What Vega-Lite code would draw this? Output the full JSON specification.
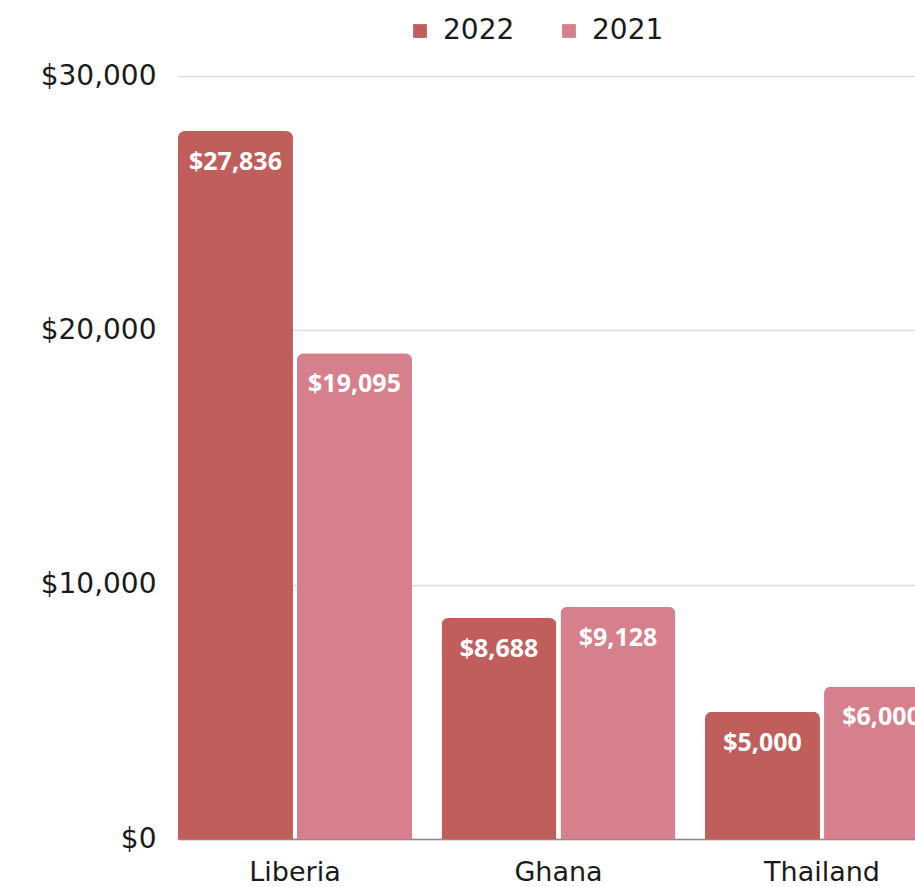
{
  "$schema": "https://vega.github.io/schema/vega-lite/v6.json",
  "autosize": {"type": "none"},
  "padding": {"left": 178, "top": 76, "right": 0, "bottom": 48},
  "width": 737,
  "height": 763,
  "background": "white",
  "data": {
    "values": [
      {"country": "Liberia", "year": "2022", "value": 27836},
      {"country": "Liberia", "year": "2021", "value": 19095},
      {"country": "Ghana", "year": "2022", "value": 8688},
      {"country": "Ghana", "year": "2021", "value": 9128},
      {"country": "Thailand", "year": "2022", "value": 5000},
      {"country": "Thailand", "year": "2021", "value": 6000}
    ]
  },
  "config": {
    "view": {"stroke": null},
    "font": "DejaVu Sans"
  },
  "encoding": {
    "x": {
      "field": "country",
      "type": "nominal",
      "sort": ["Liberia", "Ghana", "Thailand"],
      "scale": {"range": [0, 761], "paddingInner": 0.112, "paddingOuter": 0},
      "axis": {
        "title": null,
        "labelAngle": 0,
        "labelFontSize": 27,
        "labelColor": "#1a1a1a",
        "labelPadding": 20,
        "ticks": false,
        "domainColor": "#8c8c8c",
        "domainWidth": 1.5,
        "grid": false
      }
    },
    "xOffset": {
      "field": "year",
      "type": "nominal",
      "sort": ["2022", "2021"],
      "scale": {"paddingInner": 0.034, "paddingOuter": 0}
    },
    "y": {
      "field": "value",
      "type": "quantitative",
      "scale": {"domain": [0, 30000], "nice": false},
      "axis": {
        "title": null,
        "values": [0, 10000, 20000, 30000],
        "format": "$,d",
        "labelFontSize": 28,
        "labelColor": "#1a1a1a",
        "labelPadding": 22,
        "ticks": false,
        "domain": false,
        "gridColor": "#dcdcdc",
        "gridWidth": 1.5
      }
    }
  },
  "layer": [
    {
      "mark": {"type": "bar", "cornerRadiusTopLeft": 7, "cornerRadiusTopRight": 7},
      "encoding": {
        "color": {
          "field": "year",
          "type": "nominal",
          "sort": ["2022", "2021"],
          "scale": {"domain": ["2022", "2021"], "range": ["#c05e5b", "#d5808c"]},
          "legend": {
            "title": null,
            "orient": "none",
            "direction": "horizontal",
            "legendX": 228,
            "legendY": -59,
            "symbolType": "square",
            "symbolSize": 190,
            "labelFontSize": 28,
            "labelColor": "#1a1a1a",
            "columnPadding": 40,
            "labelOffset": 9
          }
        }
      }
    },
    {
      "mark": {"type": "text", "color": "white", "font": "Noto Sans", "fontWeight": "bold", "fontSize": 25, "baseline": "middle", "dy": 31},
      "encoding": {
        "text": {"field": "value", "type": "quantitative", "format": "$,d"}
      }
    }
  ]
}
